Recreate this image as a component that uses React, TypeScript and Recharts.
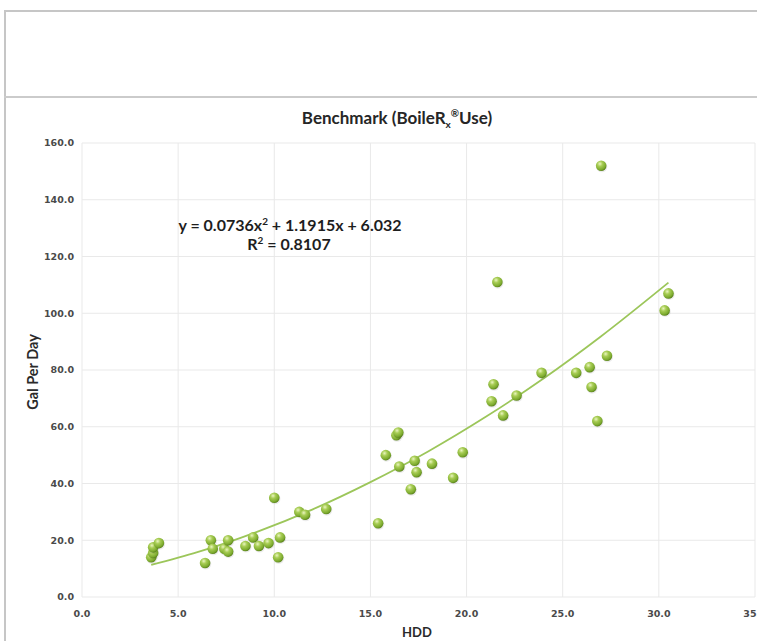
import { ComposedChart, Scatter, Line, XAxis, YAxis, CartesianGrid } from "recharts";

// HDD vs gallons per day
const hdd = [
  3.6, 3.7, 3.7, 4.0, 6.4, 6.7, 6.8, 7.4, 7.6, 7.6, 8.5, 8.9, 9.2, 9.7, 10.0, 10.2, 10.3,
  11.3, 11.6, 12.7, 15.4, 15.8, 16.35, 16.45, 16.5, 17.1, 17.3, 17.4, 18.2, 19.3, 19.8,
  21.3, 21.4, 21.6, 21.9, 22.6, 23.9, 25.7, 26.4, 26.5, 26.8, 27.0, 27.3, 30.3, 30.5,
];
const galPerDay = [
  14, 15.5, 17.5, 19, 12, 20, 17, 17, 20, 16, 18, 21, 18, 19, 35, 14, 21,
  30, 29, 31, 26, 50, 57, 58, 46, 38, 48, 44, 47, 42, 51,
  69, 75, 111, 64, 71, 79, 79, 81, 74, 62, 152, 85, 101, 107,
];

// polynomial trendline as drawn
const trendX = [3.6, 6, 9, 12, 15, 18, 21, 24, 27, 30.5];
const trendY = [11.3, 15.8, 22.7, 30.9, 40.5, 51.3, 63.5, 77.0, 91.9, 110.8];

const xTicks = [0, 5, 10, 15, 20, 25, 30, 35];
const yTicks = [0, 20, 40, 60, 80, 100, 120, 140, 160];

const points = hdd.map((x, i) => ({ x, y: galPerDay[i] }));
const trend = trendX.map((x, i) => ({ x, y: trendY[i] }));

const font = "Lato, 'Open Sans', sans-serif";
const tickStyle = { fill: "#4a4a4a", fontSize: 9.5, fontWeight: 700, fontFamily: "'DejaVu Sans', sans-serif" };

const Ball = (props: any) => {
  const { cx, cy } = props;
  if (cx == null || cy == null) return null;
  return (
    <g>
      <circle cx={cx + 0.6} cy={cy + 1} r={5.6} fill="#000" opacity={0.08} />
      <circle cx={cx} cy={cy} r={5.3} fill="url(#ball)" />
    </g>
  );
};

export default function App() {
  return (
    <div
      style={{
        position: "absolute",
        left: 0,
        top: 0,
        width: 757,
        height: 641,
        overflow: "hidden",
        background: "#fff",
      }}
    >
      <div style={{ position: "absolute", left: 4, top: 10, width: 800, height: 2, background: "#c6c6c6" }} />
      <div style={{ position: "absolute", left: 4, top: 10, width: 2, height: 640, background: "#c6c6c6" }} />
      <div style={{ position: "absolute", left: 4, top: 96, width: 800, height: 2, background: "#cbcbcb" }} />

      <div style={{ position: "absolute", left: 0, top: 0 }}>
        <ComposedChart width={800} height={641} margin={{ top: 143, right: 45, bottom: 14, left: 22 }}>
          <defs>
            <radialGradient id="ball" cx="38%" cy="32%" r="70%">
              <stop offset="0%" stopColor="#eaf5c0" />
              <stop offset="35%" stopColor="#a8cd55" />
              <stop offset="80%" stopColor="#7caa2e" />
              <stop offset="100%" stopColor="#577f1a" />
            </radialGradient>
          </defs>
          <CartesianGrid stroke="#e9e9e9" strokeWidth={1} />
          <XAxis
            type="number"
            dataKey="x"
            domain={[0, 35]}
            ticks={xTicks}
            tickFormatter={(v: number) => v.toFixed(1)}
            axisLine={false}
            tickLine={false}
            tickMargin={7}
            height={30}
            tick={tickStyle}
            interval={0}
            allowDataOverflow
          />
          <YAxis
            type="number"
            dataKey="y"
            domain={[0, 160]}
            ticks={yTicks}
            tickFormatter={(v: number) => v.toFixed(1)}
            axisLine={false}
            tickLine={false}
            width={60}
            tick={tickStyle}
            interval={0}
          />
          <Line
            data={trend}
            dataKey="y"
            type="monotone"
            stroke="#9cc65a"
            strokeWidth={1.8}
            dot={false}
            activeDot={false}
            isAnimationActive={false}
          />
          <Scatter data={points} dataKey="y" shape={<Ball />} isAnimationActive={false} />
        </ComposedChart>
      </div>

      <svg
        width={757}
        height={641}
        style={{ position: "absolute", left: 0, top: 0, pointerEvents: "none" }}
        fontFamily={font}
        fontWeight={700}
      >
        <text x={397} y={124} textAnchor="middle" fontSize={17} fill="#262626">
          Benchmark (BoileR<tspan fontSize={10} dy={4}>x</tspan>
          <tspan fontSize={10} dy={-11}>®</tspan>
          <tspan dy={7}>Use)</tspan>
        </text>
        <text x={290} y={231} textAnchor="middle" fontSize={16} fill="#1e1e1e">
          y = 0.0736x<tspan fontSize={10} dy={-6}>2</tspan>
          <tspan dy={6}> + 1.1915x + 6.032</tspan>
        </text>
        <text x={289} y={250} textAnchor="middle" fontSize={16} fill="#1e1e1e">
          R<tspan fontSize={10} dy={-6}>2</tspan>
          <tspan dy={6}> = 0.8107</tspan>
        </text>
        <text
          x={38}
          y={372}
          textAnchor="middle"
          fontSize={14.5}
          fill="#2a2a2a"
          transform="rotate(-90 38 372)"
        >
          Gal Per Day
        </text>
        <text x={417} y={637} textAnchor="middle" fontSize={13} fill="#2a2a2a">
          HDD
        </text>
      </svg>
    </div>
  );
}
